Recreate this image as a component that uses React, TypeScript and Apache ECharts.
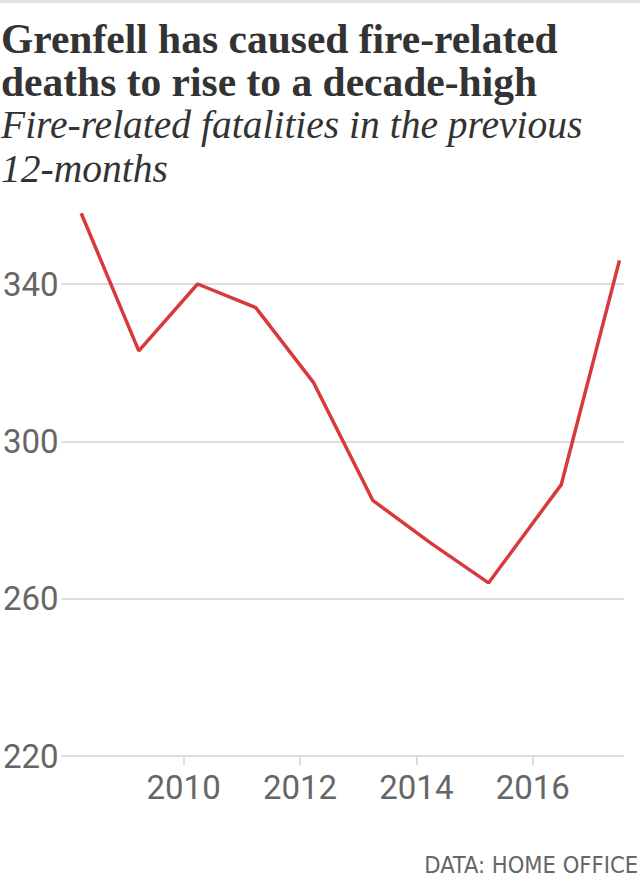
import React, { useEffect, useRef } from "react";
import * as echarts from "echarts";

const titleLines = ["Grenfell has caused fire-related", "deaths to rise to a decade-high"];
const subtitleLines = ["Fire-related fatalities in the previous", "12-months"];
const sourceText = "DATA: HOME OFFICE";

// Decimal year of each 12-month period end
const periods = [2008.24, 2009.23, 2010.24, 2011.24, 2012.23, 2013.25, 2014.26, 2015.24, 2016.49, 2017.49];
const fatalities = [358, 323, 340, 334, 315, 285, 274, 264, 289, 346];
const xTicks = [2010, 2012, 2014, 2016];
const yTicks = [220, 260, 300, 340];

export default function App() {
  const ref = useRef<HTMLDivElement>(null);
  useEffect(() => {
    if (!ref.current) return;
    const chart = echarts.init(ref.current, null, { renderer: "svg" });
    const numFont = "Roboto, 'Noto Sans', sans-serif";
    chart.setOption({
      animation: false,
      backgroundColor: "#ffffff",
      title: [
        {
          text: titleLines.join("\n"),
          left: 1,
          top: 17,
          padding: 0,
          textStyle: {
            fontFamily: "'Liberation Serif', 'DejaVu Serif', serif",
            fontWeight: "bold",
            fontSize: 41.5,
            lineHeight: 43,
            color: "#333333",
          },
        },
        {
          text: subtitleLines.join("\n"),
          left: 1,
          top: 103,
          padding: 0,
          textStyle: {
            fontFamily: "'Liberation Serif', 'DejaVu Serif', serif",
            fontStyle: "italic",
            fontWeight: "normal",
            fontSize: 39.5,
            lineHeight: 44,
            color: "#333333",
          },
        },
      ],
      graphic: [
        {
          type: "rect",
          left: 0,
          top: 0,
          shape: { x: 0, y: 0, width: 640, height: 3 },
          style: { fill: "#e3e3e3" },
        },
        {
          type: "text",
          right: 2,
          top: 853,
          style: {
            text: sourceText,
            fontFamily: "'Liberation Sans Narrow', 'DejaVu Sans Condensed', Roboto, sans-serif",
            fontSize: 23.5,
            fill: "#666666",
          },
        },
      ],
      grid: { left: 57, right: 16, top: 284, bottom: 124 },
      xAxis: {
        type: "value",
        min: 2007.904,
        max: 2017.568,
        splitLine: { show: false },
        axisLine: { show: false },
        axisTick: {
          show: true,
          customValues: xTicks,
          length: 9,
          lineStyle: { color: "#dcdcdc", width: 2 },
        },
        axisLabel: {
          customValues: xTicks,
          margin: 15,
          fontFamily: numFont,
          fontSize: 33,
          color: "#666666",
          formatter: (v: number) => String(v),
        },
      },
      yAxis: {
        type: "value",
        min: yTicks[0],
        max: yTicks[yTicks.length - 1],
        interval: 40,
        axisLine: { show: false },
        axisTick: { show: false },
        splitLine: { show: true, lineStyle: { color: "#dcdcdc", width: 2 } },
        axisLabel: {
          margin: 3,
          fontFamily: numFont,
          fontSize: 33,
          color: "#666666",
        },
      },
      series: [
        {
          type: "line",
          data: periods.map((p, i) => [p, fatalities[i]]),
          symbol: "none",
          clip: false,
          lineStyle: { color: "#d8393a", width: 3.5 },
        },
      ],
    });
    return () => chart.dispose();
  }, []);
  return <div ref={ref} style={{ position: "absolute", left: 0, top: 0, width: 640, height: 880 }} />;
}
